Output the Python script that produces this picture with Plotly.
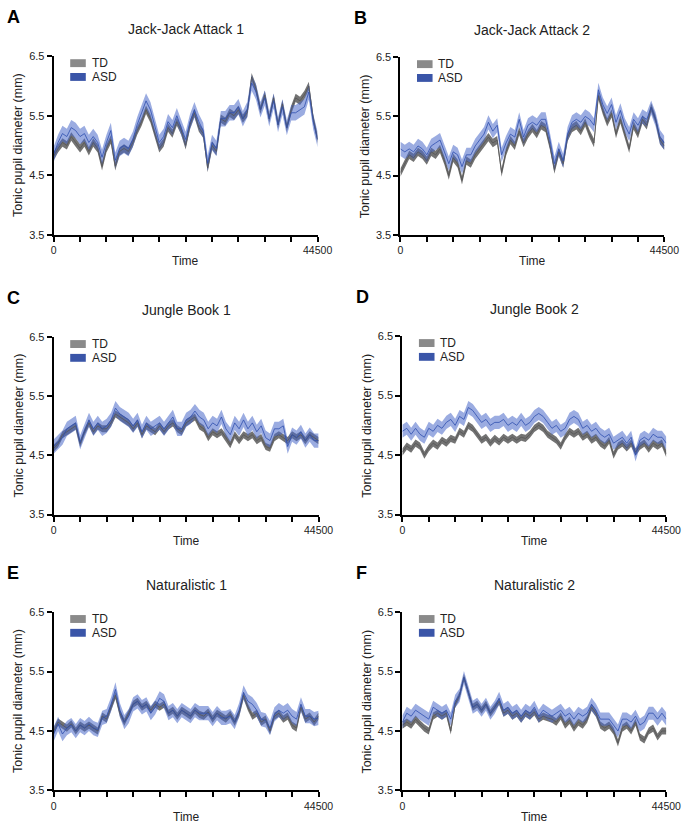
import numpy as np
import plotly.graph_objects as go

# ---------------- data ----------------
panel_titles = ["Jack-Jack Attack 1", "Jack-Jack Attack 2", "Jungle Book 1",
                "Jungle Book 2", "Naturalistic 1", "Naturalistic 2"]
panel_letters = ["A", "B", "C", "D", "E", "F"]
time_max = 44500
y_ticks = [3.5, 4.5, 5.5, 6.5]
x_tick_labels = ["0", "", "", "", "", "", "", "", "", "", "44500"]

td_A = [4.82, 4.95, 5.05, 5.00, 5.15, 5.05, 4.95, 5.05, 4.90, 5.05, 4.95, 4.65, 4.95, 5.10, 4.65, 4.90,
        4.95, 4.90, 5.05, 5.25, 5.40, 5.60, 5.45, 5.20, 4.95, 5.05, 5.30, 5.20, 5.40, 5.25, 5.00, 5.35,
        5.55, 5.30, 5.20, 4.62, 5.00, 4.90, 5.45, 5.40, 5.55, 5.50, 5.60, 5.45, 5.55, 6.15, 5.95, 5.60,
        5.85, 5.45, 5.80, 5.35, 5.70, 5.30, 5.60, 5.80, 5.75, 5.85, 6.00, 5.45, 5.10]
asd_A = [4.85, 5.05, 5.20, 5.15, 5.30, 5.25, 5.15, 5.20, 5.05, 5.15, 5.05, 4.80, 5.05, 5.25, 4.75, 4.95,
         5.00, 4.95, 5.10, 5.35, 5.55, 5.75, 5.60, 5.30, 5.05, 5.15, 5.40, 5.30, 5.50, 5.30, 5.10, 5.40,
         5.60, 5.40, 5.25, 4.70, 5.05, 4.95, 5.45, 5.45, 5.55, 5.55, 5.65, 5.45, 5.60, 6.05, 5.90, 5.60,
         5.80, 5.45, 5.75, 5.35, 5.65, 5.30, 5.55, 5.55, 5.60, 5.65, 5.90, 5.40, 5.10]

td_B = [4.55, 4.70, 4.85, 4.80, 4.90, 4.85, 4.75, 4.90, 4.85, 4.95, 4.75, 4.50, 4.80, 4.70, 4.42, 4.75,
        4.70, 4.85, 4.95, 5.05, 5.15, 5.05, 5.10, 4.55, 4.90, 5.10, 5.00, 5.25, 5.05, 5.20, 5.30, 5.20,
        5.35, 5.30, 5.00, 4.60, 4.90, 4.70, 5.15, 5.30, 5.35, 5.25, 5.40, 5.20, 5.05, 5.85, 5.60, 5.40,
        5.55, 5.20, 5.45, 5.20, 4.95, 5.35, 5.20, 5.45, 5.35, 5.65, 5.45, 5.10, 5.00]
asd_B = [4.95, 4.90, 4.95, 4.90, 5.00, 4.95, 4.85, 5.00, 5.05, 5.10, 4.90, 4.70, 4.90, 4.85, 4.65, 4.85,
         4.85, 5.00, 5.10, 5.20, 5.40, 5.25, 5.35, 4.85, 5.05, 5.20, 5.15, 5.45, 5.15, 5.35, 5.40, 5.35,
         5.45, 5.45, 5.10, 4.70, 4.95, 4.75, 5.20, 5.40, 5.45, 5.40, 5.50, 5.45, 5.35, 5.95, 5.70, 5.55,
         5.70, 5.40, 5.60, 5.35, 5.20, 5.45, 5.35, 5.50, 5.45, 5.65, 5.45, 5.15, 5.05]

td_C = [4.62, 4.70, 4.85, 4.90, 4.95, 5.00, 4.70, 4.90, 5.05, 4.90, 5.00, 4.95, 4.95, 5.05, 5.20, 5.15,
        5.10, 5.05, 4.95, 5.05, 4.85, 5.00, 4.95, 4.90, 5.00, 4.90, 5.00, 5.05, 4.95, 4.90, 5.05, 5.10,
        5.15, 5.00, 4.95, 4.80, 4.90, 4.85, 4.90, 4.80, 4.68, 4.85, 4.75, 4.85, 4.80, 4.85, 4.75, 4.80,
        4.65, 4.62, 4.80, 4.85, 4.80, 4.75, 4.85, 4.80, 4.85, 4.75, 4.85, 4.80, 4.75]
asd_C = [4.65, 4.72, 4.80, 4.95, 5.00, 5.05, 4.72, 4.92, 5.10, 4.95, 5.05, 4.95, 5.00, 5.10, 5.30, 5.20,
         5.15, 5.10, 5.00, 5.10, 4.90, 5.05, 4.95, 5.00, 5.05, 4.95, 5.05, 5.15, 4.95, 4.95, 5.10, 5.15,
         5.25, 5.15, 5.10, 4.95, 5.05, 5.00, 5.15, 4.95, 4.85, 5.05, 4.95, 5.10, 4.95, 5.05, 4.90, 5.00,
         4.80, 4.75, 4.95, 4.95, 5.00, 4.65, 4.85, 4.80, 4.90, 4.75, 4.85, 4.75, 4.75]

td_D = [4.55, 4.65, 4.60, 4.70, 4.65, 4.50, 4.62, 4.70, 4.65, 4.75, 4.70, 4.78, 4.75, 4.90, 4.85, 5.00,
        4.95, 4.85, 4.75, 4.80, 4.70, 4.78, 4.72, 4.80, 4.75, 4.80, 4.75, 4.80, 4.78, 4.85, 4.95, 5.00,
        4.95, 4.85, 4.80, 4.75, 4.65, 4.80, 4.90, 4.85, 4.90, 4.80, 4.85, 4.75, 4.80, 4.70, 4.65, 4.75,
        4.50, 4.65, 4.70, 4.62, 4.70, 4.55, 4.65, 4.70, 4.60, 4.70, 4.65, 4.70, 4.52]
asd_D = [4.90, 4.95, 4.85, 4.95, 4.85, 4.80, 4.95, 4.90, 5.00, 4.95, 5.05, 5.10, 5.00, 5.15, 5.10, 5.30,
         5.25, 5.15, 5.05, 5.10, 5.00, 5.05, 5.05, 5.10, 5.00, 5.05, 5.00, 5.10, 5.00, 5.05, 5.15, 5.20,
         5.15, 5.05, 4.95, 5.00, 4.90, 4.95, 5.10, 5.15, 5.10, 4.95, 5.00, 4.90, 4.95, 4.85, 4.80, 4.85,
         4.70, 4.75, 4.80, 4.70, 4.80, 4.50, 4.75, 4.80, 4.75, 4.85, 4.80, 4.80, 4.70]

td_E = [4.50, 4.65, 4.60, 4.55, 4.62, 4.50, 4.60, 4.55, 4.60, 4.55, 4.50, 4.75, 4.70, 4.90, 5.10, 4.80,
        4.65, 4.80, 4.95, 5.00, 4.90, 4.95, 4.85, 4.95, 4.90, 4.95, 4.80, 4.85, 4.75, 4.85, 4.80, 4.75,
        4.85, 4.78, 4.75, 4.82, 4.70, 4.80, 4.75, 4.70, 4.78, 4.65, 4.80, 5.10, 4.90, 4.75, 4.80, 4.65,
        4.70, 4.50, 4.75, 4.80, 4.70, 4.75, 4.60, 4.55, 4.90, 4.70, 4.75, 4.65, 4.75]
asd_E = [4.45, 4.62, 4.45, 4.55, 4.60, 4.50, 4.60, 4.55, 4.62, 4.55, 4.52, 4.72, 4.75, 4.95, 5.20, 4.85,
         4.65, 4.75, 4.95, 5.00, 4.90, 4.95, 4.80, 4.90, 5.05, 5.00, 4.80, 4.85, 4.75, 4.85, 4.80, 4.75,
         4.85, 4.80, 4.80, 4.80, 4.70, 4.80, 4.72, 4.72, 4.75, 4.65, 4.85, 5.15, 5.00, 4.95, 4.85, 4.70,
         4.68, 4.55, 4.78, 4.85, 4.80, 4.85, 4.75, 4.70, 4.95, 4.75, 4.75, 4.70, 4.72]

td_F = [4.60, 4.65, 4.60, 4.70, 4.62, 4.55, 4.50, 4.75, 4.80, 4.75, 4.80, 4.50, 4.95, 5.10, 5.40, 5.15,
        4.90, 4.95, 4.85, 4.95, 4.80, 4.90, 5.00, 4.80, 4.85, 4.75, 4.80, 4.70, 4.80, 4.75, 4.82, 4.70,
        4.75, 4.72, 4.70, 4.65, 4.75, 4.60, 4.68, 4.55, 4.65, 4.60, 4.70, 4.90, 4.80, 4.60, 4.55, 4.60,
        4.50, 4.30, 4.55, 4.60, 4.50, 4.65, 4.40, 4.35, 4.50, 4.55, 4.40, 4.50, 4.50]
asd_F = [4.65, 4.80, 4.75, 4.85, 4.80, 4.75, 4.70, 4.90, 4.85, 4.80, 4.85, 4.70, 5.00, 5.10, 5.40, 5.15,
         4.90, 4.95, 4.85, 4.95, 4.80, 4.90, 5.05, 4.85, 4.90, 4.80, 4.85, 4.75, 4.85, 4.80, 4.90, 4.75,
         4.85, 4.80, 4.75, 4.80, 4.85, 4.75, 4.80, 4.70, 4.80, 4.75, 4.80, 4.95, 4.85, 4.70, 4.70, 4.70,
         4.60, 4.50, 4.70, 4.70, 4.65, 4.75, 4.60, 4.65, 4.80, 4.80, 4.70, 4.80, 4.70]

td_series = [td_A, td_B, td_C, td_D, td_E, td_F]
asd_series = [asd_A, asd_B, asd_C, asd_D, asd_E, asd_F]
td_sem = [0.07, 0.07, 0.06, 0.06, 0.06, 0.06]
asd_sem = [0.13, 0.12, 0.12, 0.11, 0.12, 0.11]

# ---------------- layout (pixels) ----------------
W, H = 694, 830
# plot boxes: left, right, top, bottom in pixels
boxes = [(52, 323, 51, 232), (408, 679, 52, 232),
         (52, 324, 336, 516), (410, 681, 335, 516),
         (52, 324, 615, 796), (410, 681, 615, 796)]

FONT = "Arial, Liberation Sans, Helvetica, sans-serif"
TD_BAND = "rgba(100,100,100,0.9)"
TD_LINE = "#555555"
ASD_BAND = "rgba(72,104,200,0.55)"
ASD_LINE = "#2f4fae"

fig = go.Figure()
annotations = []
shapes = []


def px_x(p):
    return p / W


def px_y(p):
    return 1 - p / H


for i in range(6):
    n = i + 1
    xa = "x" if n == 1 else f"x{n}"
    ya = "y" if n == 1 else f"y{n}"
    td = np.array(td_series[i])
    asd = np.array(asd_series[i])
    t = np.linspace(0, time_max, len(td))
    for vals, sem, band in [(td, td_sem[i], TD_BAND), (asd, asd_sem[i], ASD_BAND)]:
        up = vals + sem
        lo = vals - sem
        fig.add_trace(go.Scatter(
            x=np.concatenate([t, t[::-1]]), y=np.concatenate([up, lo[::-1]]),
            fill="toself", fillcolor=band, line=dict(width=0), mode="lines",
            hoverinfo="skip", showlegend=False, xaxis=xa, yaxis=ya))
    for vals, line in [(td, TD_LINE), (asd, ASD_LINE)]:
        fig.add_trace(go.Scatter(x=t, y=vals, mode="lines",
                                 line=dict(color=line, width=0.8),
                                 showlegend=False, xaxis=xa, yaxis=ya))

    l, r, tp, b = boxes[i]
    xkey = "xaxis" if n == 1 else f"xaxis{n}"
    ykey = "yaxis" if n == 1 else f"yaxis{n}"
    fig.update_layout(**{
        xkey: dict(domain=[px_x(l), px_x(r)], anchor=ya, range=[0, time_max],
                   showgrid=False, zeroline=False, showline=True, linecolor="black",
                   linewidth=2, ticks="outside", ticklen=5, tickwidth=2, tickcolor="black",
                   tickvals=[k * time_max / 10 for k in range(11)], ticktext=x_tick_labels,
                   tickfont=dict(family=FONT, size=10.5, color="#222")),
        ykey: dict(domain=[px_y(b), px_y(tp)], anchor=xa, range=[3.5, 6.5],
                   showgrid=False, zeroline=False, showline=True, linecolor="black",
                   linewidth=2, ticks="outside", ticklen=5, tickwidth=2, tickcolor="black",
                   tickvals=y_ticks, ticktext=[f"{v:.1f}" for v in y_ticks],
                   tickfont=dict(family=FONT, size=11, color="#222")),
    })
    cx = (l + r) / 2
    # panel title
    annotations.append(dict(x=px_x(cx), y=px_y(tp - 28), xref="paper", yref="paper",
                            text=panel_titles[i], showarrow=False,
                            font=dict(family=FONT, size=14, color="#222"),
                            xanchor="center", yanchor="middle"))
    # panel letter
    annotations.append(dict(x=px_x(l - 50), y=px_y(tp - 40), xref="paper", yref="paper",
                            text=f"<b>{panel_letters[i]}</b>", showarrow=False,
                            font=dict(family=FONT, size=18, color="black"),
                            xanchor="left", yanchor="middle"))
    # x title
    annotations.append(dict(x=px_x(cx), y=px_y(b + 27), xref="paper", yref="paper",
                            text="Time", showarrow=False,
                            font=dict(family=FONT, size=12, color="#222"),
                            xanchor="center", yanchor="middle"))
    # y title
    annotations.append(dict(x=px_x(l - 36), y=px_y((tp + b) / 2), xref="paper", yref="paper",
                            text="Tonic pupil diameter (mm)", showarrow=False, textangle=-90,
                            font=dict(family=FONT, size=12.5, color="#222"),
                            xanchor="center", yanchor="middle"))
    # legend
    for k, (lab, col) in enumerate([("TD", "#8a8a8a"), ("ASD", "#3a55a8")]):
        yc = tp + 7 + k * 14
        shapes.append(dict(type="rect", xref="paper", yref="paper",
                           x0=px_x(l + 17), x1=px_x(l + 33),
                           y0=px_y(yc + 4), y1=px_y(yc - 4),
                           fillcolor=col, line=dict(width=0)))
        annotations.append(dict(x=px_x(l + 37), y=px_y(yc), xref="paper", yref="paper",
                                text=lab, showarrow=False,
                                font=dict(family=FONT, size=12, color="#222"),
                                xanchor="left", yanchor="middle"))

fig.update_layout(width=W, height=H, margin=dict(l=0, r=0, t=0, b=0),
                  paper_bgcolor="white", plot_bgcolor="white",
                  annotations=annotations, shapes=shapes, showlegend=False)

fig.write_html("out.html", config={"displayModeBar": False},
               post_script="document.body.style.margin='0';document.body.style.overflow='hidden';")
